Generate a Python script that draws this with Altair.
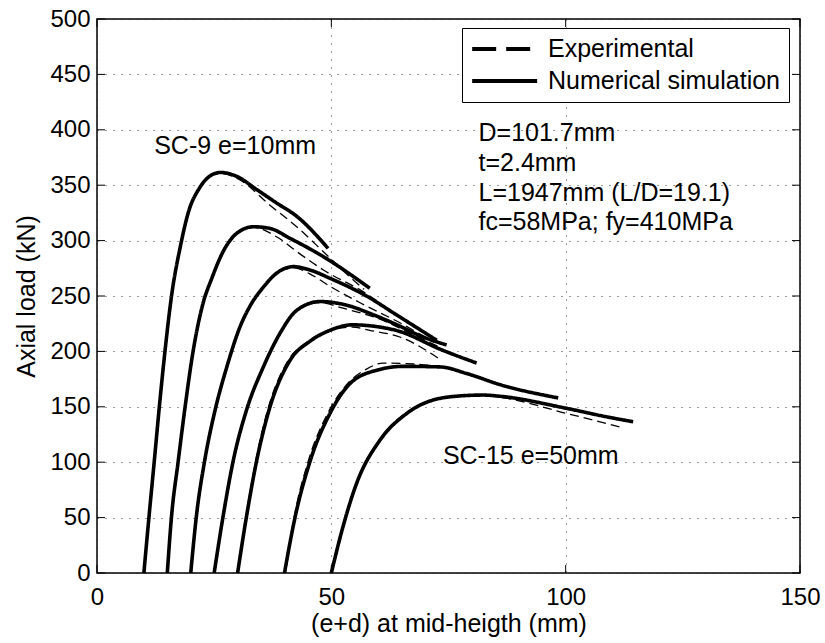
import altair as alt
import pandas as pd

# Eccentricity of each specimen (mm) and the matching load-deflection curves
ecc = [10, 15, 20, 25, 30, 40, 50]

# Numerical simulation curves: (e+d) in mm, axial load in kN
num_x_10 = [10, 11.1, 12.2, 13.3, 14.5, 15.9, 17.8, 19.6, 21.8, 24.0, 26.3, 29.8, 34.1, 38.3, 42.6, 49.3]
num_y_10 = [0, 51, 100, 150, 200, 250, 295, 327, 347, 358, 361.5, 358, 346, 334, 322, 293]
num_x_15 = [15, 15.9, 17.3, 18.8, 20.5, 22.6, 24.5, 26.9, 29.8, 33.4, 36.9, 41.2, 48.3, 58.2]
num_y_15 = [0, 51, 100, 150, 200, 243, 266, 290, 306.5, 312.5, 311, 302, 285.5, 257]
num_x_20 = [20, 21.2, 23.0, 25.2, 27.7, 30.5, 32.8, 35.5, 38.3, 41.9, 45.4, 49.7, 57.5, 63.9, 72.5]
num_y_20 = [0, 51, 102, 147, 186, 222, 242, 258, 270.5, 276.5, 273.5, 266, 250, 233, 210]
num_x_25 = [25, 26.9, 29.1, 31.9, 35.5, 39.0, 42.6, 47.6, 53.0, 59.0, 64.0, 69.6, 74.6]
num_y_25 = [0, 51, 102, 147, 186, 216, 237, 245, 242, 233, 224, 213, 205.8]
num_x_30 = [30, 31.9, 34.1, 36.5, 41.2, 45.4, 49.7, 54.5, 58.5, 64.6, 73.2, 81.0]
num_y_30 = [0, 51, 102, 144, 192, 209, 219, 224, 223, 218, 202, 189.5]
num_x_40 = [40, 42.3, 45.4, 49.7, 54.0, 59.7, 65.4, 73.2, 78.9, 86.0, 98.4]
num_y_40 = [0, 51, 100, 144, 171, 183, 186.5, 186, 180, 170, 158]
num_x_50 = [50, 52.5, 55.4, 60.4, 66.1, 75.3, 82.4, 86.0, 100.2, 108.7, 114.4]
num_y_50 = [0, 42, 81, 120, 144, 159, 160.6, 159.5, 148.6, 141, 136.5]

# Experimental curves
exp_x_10 = [10.1, 11.2, 12.3, 13.4, 14.6, 16.0, 17.9, 19.7, 21.9, 24.1, 26.4, 30.5, 36.9, 42.6, 48.3, 54.0, 57.0]
exp_y_10 = [0, 51, 100, 150, 200, 250, 295, 327, 347, 358, 360.5, 354.7, 332, 312.5, 290, 267, 256]
exp_x_15 = [15.1, 16.0, 17.4, 18.9, 20.6, 22.7, 24.6, 27.0, 29.9, 33.4, 38.3, 43.3, 48.3, 57.5, 64.0]
exp_y_15 = [0, 51, 100, 150, 200, 243, 266, 290, 306.5, 312, 303.5, 288, 273.5, 252, 232]
exp_x_20 = [20.1, 21.3, 23.1, 25.3, 27.8, 30.6, 32.9, 35.6, 38.4, 41.9, 45.4, 50.0, 57.0, 65.0, 72.0]
exp_y_20 = [0, 51, 102, 147, 186, 222, 242, 258, 270.5, 275.5, 270, 258, 242, 225, 208]
exp_x_25 = [25.1, 27.0, 29.2, 32.0, 35.6, 39.1, 42.7, 47.6, 52.5, 61.0, 67.0, 73.0]
exp_y_25 = [0, 51, 102, 147, 186, 216, 237, 244, 239, 228, 216, 204]
exp_x_30 = [30.1, 31.8, 33.9, 36.2, 40.8, 45.0, 49.5, 54.5, 58.2, 64.6, 71.8, 72.8]
exp_y_30 = [0, 51, 102, 144, 192, 209, 219, 222, 219, 213, 196.7, 193.8]
exp_x_40 = [40.2, 42.1, 45.0, 49.2, 53.5, 57.5, 61.0, 66.0, 73.2, 78.9, 86.0, 98.0]
exp_y_40 = [0, 51, 100, 144, 171, 184, 189.5, 189, 186, 180, 170, 158]
exp_x_50 = [50.1, 52.6, 55.5, 60.4, 66.1, 75.3, 82.4, 86.0, 100.2, 112.3]
exp_y_50 = [0, 42, 81, 121, 145, 159, 160, 158.5, 144, 131]

num_x = [num_x_10, num_x_15, num_x_20, num_x_25, num_x_30, num_x_40, num_x_50]
num_y = [num_y_10, num_y_15, num_y_20, num_y_25, num_y_30, num_y_40, num_y_50]
exp_x = [exp_x_10, exp_x_15, exp_x_20, exp_x_25, exp_x_30, exp_x_40, exp_x_50]
exp_y = [exp_y_10, exp_y_15, exp_y_20, exp_y_25, exp_y_30, exp_y_40, exp_y_50]

# Axis ticks
x_ticks = [0, 50, 100, 150]
y_ticks = [0, 50, 100, 150, 200, 250, 300, 350, 400, 450, 500]

# Text annotations (data coordinates)
note_text = ["SC-9 e=10mm", "SC-15 e=50mm", "D=101.7mm", "t=2.4mm",
             "L=1947mm (L/D=19.1)", "fc=58MPa; fy=410MPa"]
note_x = [12.2, 73.8, 81.4, 81.4, 81.4, 81.4]
note_y = [385, 106, 397, 370, 343, 317]

FONT = "Liberation Sans"
W, H = 703, 554

rows = []
for kind, xs_all, ys_all in [("Numerical simulation", num_x, num_y),
                             ("Experimental", exp_x, exp_y)]:
    for e, xs, ys in zip(ecc, xs_all, ys_all):
        for i, (xv, yv) in enumerate(zip(xs, ys)):
            rows.append({"type": kind, "series": f"{kind} {e}", "x": xv, "y": yv, "i": i})
curves = pd.DataFrame(rows)

notes = pd.DataFrame({"text": note_text, "x": note_x, "y": note_y})
xt = pd.DataFrame({"x": x_ticks})
yt = pd.DataFrame({"y": y_ticks})

x_scale = alt.Scale(domain=[0, 150], nice=False, zero=False)
y_scale = alt.Scale(domain=[0, 500], nice=False)

kinds = ["Experimental", "Numerical simulation"]

x_enc = alt.X("x:Q", scale=x_scale,
              axis=alt.Axis(values=x_ticks, title="(e+d) at mid-heigth (mm)",
                            labelPadding=12, labelFlush=False,
                            titleY=50, titleBaseline="middle"))
y_enc = alt.Y("y:Q", scale=y_scale,
              axis=alt.Axis(values=y_ticks, title="Axial load (kN)",
                            labelPadding=7, labelFlush=False,
                            titleX=-71, titleY=H / 2,
                            titleAngle=270, titleBaseline="middle", titleAlign="center"))

# Measured and simulated curves
lines = alt.Chart(curves).mark_line(interpolate="monotone", color="black").encode(
    x=x_enc,
    y=y_enc,
    detail="series:N",
    order="i:Q",
    strokeDash=alt.StrokeDash(
        "type:N", scale=alt.Scale(domain=kinds, range=[[9, 5], [1, 0]]), legend=None),
    strokeWidth=alt.StrokeWidth(
        "type:N", scale=alt.Scale(domain=kinds, range=[1.3, 3.6]), legend=None),
)

# Key layer: draws no lines, only carries the legend with long bold symbols
key = alt.Chart(curves).transform_filter("false").mark_line(color="black").encode(
    x=alt.X("x:Q", scale=x_scale),
    y=alt.Y("y:Q", scale=y_scale),
    strokeDash=alt.StrokeDash(
        "type:N",
        scale=alt.Scale(domain=kinds, range=[[24, 10], [1, 0]]),
        legend=alt.Legend(
            title=None, orient="none", legendX=365, legendY=9,
            fillColor="white", strokeColor="black", padding=8,
            labelFont=FONT, labelFontSize=25, labelColor="black", labelLimit=0,
            symbolType="M-1,0H5", symbolSize=469, symbolStrokeWidth=4,
            symbolStrokeColor="black", labelOffset=52, rowPadding=6,
        ),
    ),
)

labels = alt.Chart(notes).mark_text(
    align="left", baseline="middle", font=FONT, fontSize=25, color="black"
).encode(x=alt.X("x:Q", scale=x_scale), y=alt.Y("y:Q", scale=y_scale), text="text:N")

tick_style = dict(color="black", strokeWidth=1)
x_bottom = alt.Chart(xt).mark_rule(**tick_style).encode(
    x=alt.X("x:Q", scale=x_scale), y=alt.value(H), y2=alt.value(H - 8))
x_top = alt.Chart(xt).mark_rule(**tick_style).encode(
    x=alt.X("x:Q", scale=x_scale), y=alt.value(0), y2=alt.value(8))
y_left = alt.Chart(yt).mark_rule(**tick_style).encode(
    y=alt.Y("y:Q", scale=y_scale), x=alt.value(0), x2=alt.value(8))
y_right = alt.Chart(yt).mark_rule(**tick_style).encode(
    y=alt.Y("y:Q", scale=y_scale), x=alt.value(W), x2=alt.value(W - 8))

chart = alt.layer(lines, key, labels, x_bottom, x_top, y_left, y_right).resolve_scale(
    strokeDash="independent"
).properties(
    width=W, height=H,
    autosize=alt.AutoSizeParams(type="none"),
    padding={"left": 97, "top": 19, "right": 25, "bottom": 70},
    background="white",
).configure_view(
    stroke="black", strokeWidth=1.5
).configure_axis(
    domain=False, ticks=False, tickSize=0,
    grid=True, gridDash=[1, 7], gridColor="#222222", gridWidth=1, gridOpacity=0.9,
    labelFont=FONT, labelFontSize=24, labelColor="black",
    titleFont=FONT, titleFontSize=25, titleColor="black", titleFontWeight="normal",
)

chart.save("out.html", embed_options={"renderer": "svg", "actions": False})
